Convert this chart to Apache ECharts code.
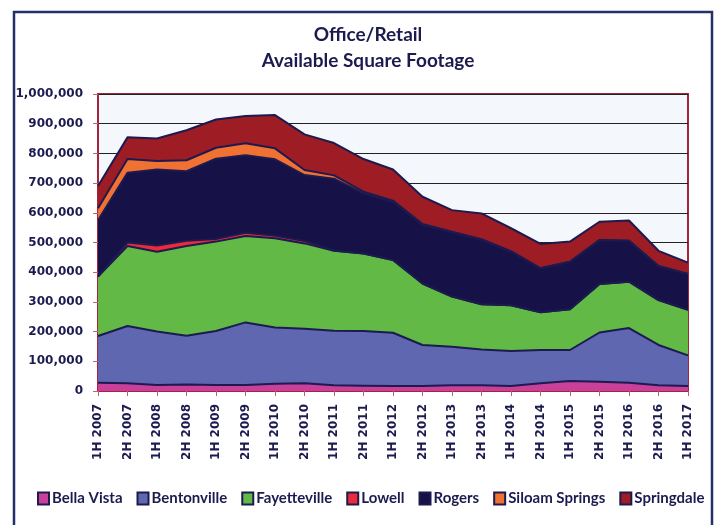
<!DOCTYPE html>
<html>
<head>
<meta charset="utf-8">
<script src="https://cdn.jsdelivr.net/npm/echarts@6/dist/echarts.min.js"></script>
<style>
  html, body { margin: 0; padding: 0; background: #fff; }
  #main { width: 715px; height: 525px; }
</style>
</head>
<body>
<div id="main"></div>
<script type="text/javascript">
    // categories (half years)
    var periods = ['1H 2007', '2H 2007', '1H 2008', '2H 2008', '1H 2009', '2H 2009', '1H 2010',
        '2H 2010', '1H 2011', '2H 2011', '1H 2012', '2H 2012', '1H 2013', '2H 2013', '1H 2014',
        '2H 2014', '1H 2015', '2H 2015', '1H 2016', '2H 2016', '1H 2017'];

    // available square footage by city (stacked)
    var bellaVista    = [28000, 26000, 20000, 22000, 20000, 20000, 24000, 26000, 19000, 18000, 17000, 17000, 19000, 19000, 17000, 26000, 34000, 31000, 28000, 19000, 17000];
    var bentonville   = [157000, 193000, 180000, 164000, 182000, 211000, 190000, 184000, 184000, 184000, 179000, 138000, 130000, 121000, 118000, 112000, 104000, 166000, 184000, 136000, 103000];
    var fayetteville  = [200000, 269000, 269000, 302000, 301000, 291000, 300000, 287000, 269000, 261000, 245000, 207000, 169000, 152000, 154000, 127000, 137000, 163000, 156000, 151000, 153000];
    var lowell        = [0, 12000, 21000, 18000, 9000, 11000, 9000, 8000, 1000, 0, 0, 0, 0, 0, 0, 0, 0, 0, 0, 0, 0];
    var rogers        = [190000, 235000, 256000, 234000, 270000, 261000, 257000, 222000, 242000, 202000, 196000, 197000, 216000, 216000, 180000, 148000, 160000, 148000, 138000, 115000, 121000];
    var siloamSprings = [40000, 46000, 28000, 37000, 37000, 40000, 37000, 17000, 11000, 6000, 4000, 3000, 2000, 3000, 2000, 0, 0, 0, 0, 0, 0];
    var springdale    = [75000, 73000, 76000, 101000, 95000, 92000, 112000, 120000, 109000, 110000, 105000, 92000, 73000, 87000, 77000, 82000, 68000, 62000, 68000, 51000, 38000];

    var yTicks = [0, 100000, 200000, 300000, 400000, 500000, 600000, 700000, 800000, 900000, 1000000];

    var cities = [
        { name: 'Bella Vista', data: bellaVista, color: '#c9409a' },
        { name: 'Bentonville', data: bentonville, color: '#5f67b1' },
        { name: 'Fayetteville', data: fayetteville, color: '#62b946' },
        { name: 'Lowell', data: lowell, color: '#ec2a3b' },
        { name: 'Rogers', data: rogers, color: '#161147' },
        { name: 'Siloam Springs', data: siloamSprings, color: '#f07132' },
        { name: 'Springdale', data: springdale, color: '#9e1d24' }
    ];

    var navy = '#1c1a4f';
    var myChart = echarts.init(document.getElementById('main'));

    var series = cities.map(function (c) {
        return {
            name: c.name,
            type: 'line',
            stack: 'total',
            data: c.data,
            symbol: 'none',
            color: c.color,
            lineStyle: { color: navy, width: 2 },
            areaStyle: { color: c.color, opacity: 1 },
            itemStyle: { color: c.color, borderColor: navy, borderWidth: 1 }
        };
    });

    var option = {
        animation: false,
        title: {
            text: 'Office/Retail\nAvailable Square Footage',
            left: 363,
            top: 17,
            textAlign: 'center',
            textStyle: {
                fontFamily: 'Lato',
                fontWeight: 'bold',
                fontSize: 19,
                lineHeight: 26,
                color: navy
            }
        },
        graphic: [{
            type: 'rect',
            shape: { x: 14, y: 12, width: 698, height: 540 },
            style: { fill: 'none', stroke: '#25306a', lineWidth: 2.5 },
            silent: true
        }],
        legend: {
            data: cities.map(function (c) { return c.name; }),
            bottom: 19,
            left: 37,
            width: 678,
            padding: 0,
            itemWidth: 11,
            itemHeight: 12,
            itemGap: 14,
            icon: 'rect',
            textStyle: {
                fontFamily: 'Lato',
                fontWeight: 'bold',
                fontSize: 15,
                color: navy,
                padding: [0, 0, 0, -2]
            }
        },
        grid: {
            left: 98,
            right: 27,
            top: 94,
            bottom: 134,
            show: true,
            backgroundColor: '#f4f7fc',
            borderColor: '#a4243c',
            borderWidth: 2
        },
        xAxis: {
            type: 'category',
            data: periods,
            boundaryGap: false,
            axisLine: { lineStyle: { color: '#a4243c', width: 2 } },
            axisTick: { show: true, length: 5, lineStyle: { color: '#c0607a' } },
            axisLabel: {
                rotate: 90,
                interval: 0,
                margin: 13,
                fontFamily: 'DejaVu Sans',
                fontWeight: 'bold',
                fontSize: 12,
                color: navy
            }
        },
        yAxis: {
            type: 'value',
            min: yTicks[0],
            max: yTicks[yTicks.length - 1],
            interval: 100000,
            axisLine: { show: true, lineStyle: { color: '#a4243c', width: 2 } },
            axisTick: { show: true, length: 5, lineStyle: { color: '#c0607a' } },
            splitLine: { show: true, lineStyle: { color: '#222222', width: 1 } },
            axisLabel: {
                margin: 15,
                fontFamily: 'DejaVu Sans',
                fontWeight: 'bold',
                fontSize: 12,
                color: navy,
                formatter: function (v) { return v.toLocaleString('en-US'); }
            }
        },
        series: series
    };

    myChart.setOption(option);
</script>
</body>
</html>
